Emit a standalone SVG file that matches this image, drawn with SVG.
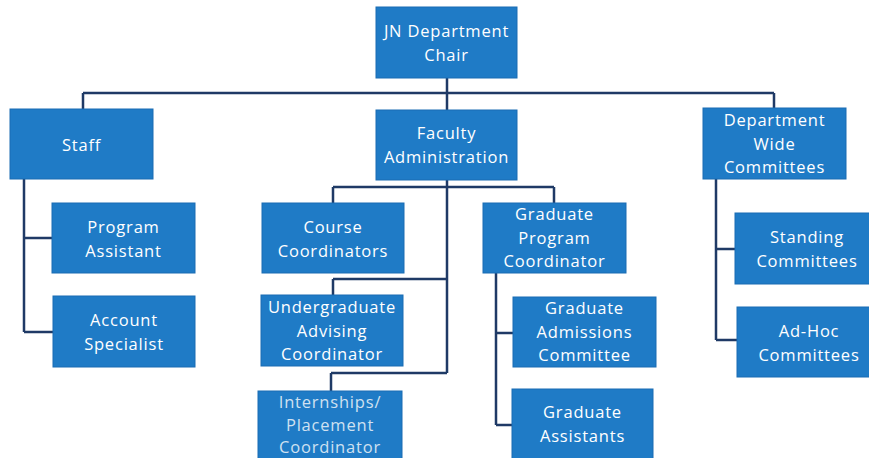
<svg xmlns="http://www.w3.org/2000/svg" width="869" height="458" viewBox="0 0 869 458">
<style>
.box{fill:#1f7bc6;stroke:#1b6db3;stroke-width:1}
.t{font-family:"Open Sans","Liberation Sans",sans-serif;font-size:16.5px;letter-spacing:0.8px;fill:#ffffff;text-anchor:middle}
.faded{fill:#cfe1f1}
.c{stroke:#1f3a66;stroke-width:2.5;fill:none}
</style>
<rect width="869" height="458" fill="#ffffff"/>
<g id="connectors">
<path class="c" d="M447,78V110M83,93H774M83,93V109M774,93V108"/>
<path class="c" d="M24,179V332M24,238H52M24,332H53"/>
<path class="c" d="M447,180V373M333,187H554M333,187V203M554,187V203M333,279H447M333,279V295M331,373H447M331,373V391"/>
<path class="c" d="M496,273V425M496,333H513M496,425H512"/>
<path class="c" d="M716,179V340M716,249H735M716,340H737"/>
</g>
<g id="chair"><rect class="box" x="376" y="7" width="141" height="71"/>
<text class="t" x="446.5" y="37">JN Department</text><text class="t" x="446.5" y="61">Chair</text></g>
<g id="staff"><rect class="box" x="10" y="109" width="143" height="70"/>
<text class="t" x="81.5" y="151">Staff</text></g>
<g id="faculty"><rect class="box" x="376" y="110" width="141" height="70"/>
<text class="t" x="446.5" y="139">Faculty</text><text class="t" x="446.5" y="163">Administration</text></g>
<g id="deptwide"><rect class="box" x="703" y="108" width="143" height="71"/>
<text class="t" x="774.5" y="126">Department</text><text class="t" x="774.5" y="150">Wide</text><text class="t" x="774.5" y="173">Committees</text></g>
<g id="progassist"><rect class="box" x="52" y="203" width="143" height="70"/>
<text class="t" x="123.5" y="233">Program</text><text class="t" x="123.5" y="257">Assistant</text></g>
<g id="acctspec"><rect class="box" x="53" y="296" width="142" height="71"/>
<text class="t" x="124" y="326">Account</text><text class="t" x="124" y="350">Specialist</text></g>
<g id="course"><rect class="box" x="262" y="203" width="142" height="70"/>
<text class="t" x="333" y="233">Course</text><text class="t" x="333" y="257">Coordinators</text></g>
<g id="undergrad"><rect class="box" x="261" y="295" width="142" height="71"/>
<text class="t" x="332" y="313">Undergraduate</text><text class="t" x="332" y="337">Advising</text><text class="t" x="332" y="360">Coordinator</text></g>
<g id="internships"><rect class="box" x="258" y="391" width="144" height="70"/>
<text class="t faded" x="330" y="408">Internships/</text><text class="t faded" x="330" y="431">Placement</text><text class="t faded" x="330" y="453">Coordinator</text></g>
<g id="gradprog"><rect class="box" x="483" y="203" width="143" height="70"/>
<text class="t" x="554.5" y="220">Graduate</text><text class="t" x="554.5" y="244">Program</text><text class="t" x="554.5" y="267">Coordinator</text></g>
<g id="gradadm"><rect class="box" x="513" y="297" width="143" height="70"/>
<text class="t" x="584.5" y="314">Graduate</text><text class="t" x="584.5" y="338">Admissions</text><text class="t" x="584.5" y="361">Committee</text></g>
<g id="gradasst"><rect class="box" x="512" y="389" width="141" height="70"/>
<text class="t" x="582.5" y="418">Graduate</text><text class="t" x="582.5" y="442">Assistants</text></g>
<g id="standing"><rect class="box" x="735" y="213" width="143" height="71"/>
<text class="t" x="807" y="243">Standing</text><text class="t" x="807" y="267">Committees</text></g>
<g id="adhoc"><rect class="box" x="737" y="307" width="142" height="70"/>
<text class="t" x="809" y="337">Ad-Hoc</text><text class="t" x="809" y="361">Committees</text></g>
</svg>
